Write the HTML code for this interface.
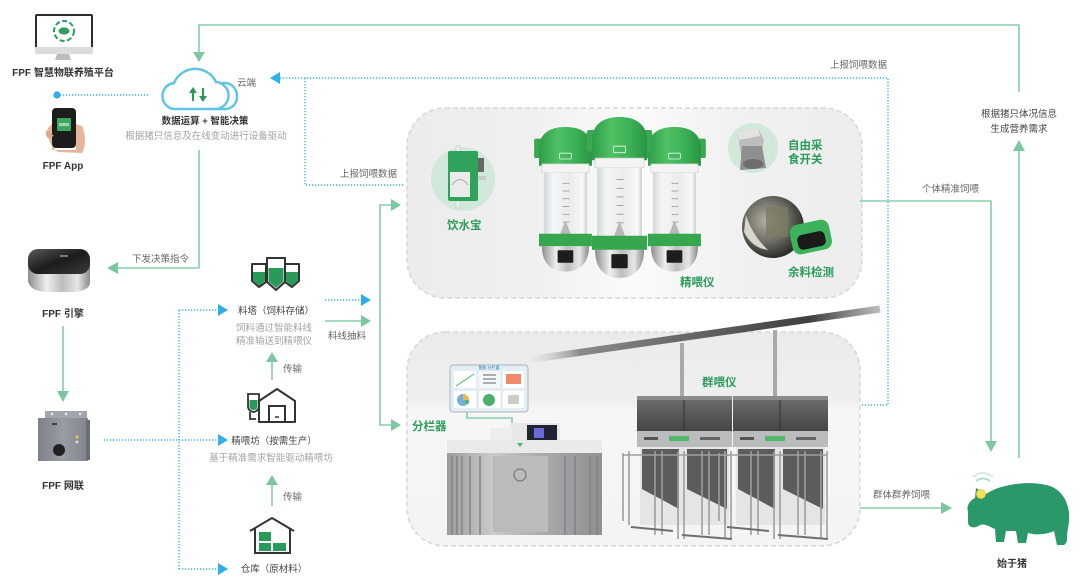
<!DOCTYPE html>
<html><head><meta charset="utf-8">
<style>
html,body{margin:0;padding:0;background:#fff;}
svg{display:block;}
text{font-family:"Liberation Sans","Noto Sans CJK SC",sans-serif;}
</style></head><body>
<svg width="1080" height="580" viewBox="0 0 1080 580" xmlns="http://www.w3.org/2000/svg">
<defs>
 <linearGradient id="pTop" x1="0" x2="1" y1="0" y2="0">
  <stop offset="0" stop-color="#ececec"/><stop offset="0.28" stop-color="#f0f0f0"/><stop offset="0.5" stop-color="#fbfbfb"/><stop offset="0.72" stop-color="#f1f1f1"/><stop offset="1" stop-color="#ededed"/>
 </linearGradient>
 <linearGradient id="pBot" x1="0" x2="0" y1="0" y2="1">
  <stop offset="0" stop-color="#ebebeb"/><stop offset="0.33" stop-color="#efefef"/><stop offset="0.36" stop-color="#f6f6f6"/><stop offset="1" stop-color="#f4f4f4"/>
 </linearGradient>
 <linearGradient id="gcap" x1="0" x2="1" y1="0" y2="0">
  <stop offset="0" stop-color="#2f9c48"/><stop offset="0.35" stop-color="#4fc063"/><stop offset="0.7" stop-color="#3bb055"/><stop offset="1" stop-color="#2a9342"/>
 </linearGradient>
 <linearGradient id="silver" x1="0" x2="1" y1="0" y2="0">
  <stop offset="0" stop-color="#8d8d8d"/><stop offset="0.3" stop-color="#efefef"/><stop offset="0.55" stop-color="#bdbdbd"/><stop offset="0.8" stop-color="#e6e6e6"/><stop offset="1" stop-color="#8a8a8a"/>
 </linearGradient>
 <linearGradient id="tube" x1="0" x2="1" y1="0" y2="0">
  <stop offset="0" stop-color="#d3d7d9"/><stop offset="0.2" stop-color="#f4f5f6"/><stop offset="0.6" stop-color="#eaeced"/><stop offset="0.9" stop-color="#f7f8f8"/><stop offset="1" stop-color="#cdd1d3"/>
 </linearGradient>
 <linearGradient id="pipe" x1="527" y1="0" x2="880" y2="0" gradientUnits="userSpaceOnUse">
  <stop offset="0" stop-color="#cfcfcf" stop-opacity="0"/><stop offset="0.15" stop-color="#8a8a8a"/><stop offset="0.8" stop-color="#3e3e3e"/><stop offset="1" stop-color="#bdbdbd"/>
 </linearGradient>
 <linearGradient id="mach" x1="0" x2="1" y1="0" y2="0">
  <stop offset="0" stop-color="#9a9c9e"/><stop offset="0.3" stop-color="#c9cbcc"/><stop offset="0.6" stop-color="#a9abad"/><stop offset="1" stop-color="#8e9092"/>
 </linearGradient>
 <linearGradient id="dark" x1="0" x2="0" y1="0" y2="1">
  <stop offset="0" stop-color="#6a6b6d"/><stop offset="1" stop-color="#444547"/>
 </linearGradient>
 <linearGradient id="engTop" x1="0" x2="1" y1="0" y2="1">
  <stop offset="0" stop-color="#5a5a5a"/><stop offset="0.5" stop-color="#1c1c1c"/><stop offset="1" stop-color="#3a3a3a"/>
 </linearGradient>
 <linearGradient id="box" x1="0" x2="1" y1="0" y2="0">
  <stop offset="0" stop-color="#7e8089"/><stop offset="0.5" stop-color="#9a9ca5"/><stop offset="1" stop-color="#82848d"/>
 </linearGradient>
 <radialGradient id="rest" cx="0.4" cy="0.4" r="0.6">
  <stop offset="0" stop-color="#b5b2a8"/><stop offset="0.6" stop-color="#6a6a62"/><stop offset="1" stop-color="#2e2e2c"/>
 </radialGradient>

 <g id="feeder">
  <rect x="-5" y="12" width="10" height="20" rx="2" fill="#3aa852"/>
  <rect x="49" y="12" width="10" height="20" rx="2" fill="#3aa852"/>
  <path d="M0,40 L0,22 C0,6 12,0 27,0 C42,0 54,6 54,22 L54,40 Z" fill="url(#gcap)"/>
  <rect x="21" y="27" width="12" height="6" rx="1" fill="none" stroke="#e9f6ec" stroke-width="0.8"/>
  <rect x="3" y="38" width="48" height="9" fill="#f3f3f3" stroke="#c9c9c9" stroke-width="0.6"/>
  <rect x="5" y="47" width="44" height="65" fill="url(#tube)"/>
  <g stroke="#8a8a8a" stroke-width="0.7">
   <line x1="24" y1="58" x2="31" y2="58"/><line x1="24" y1="66" x2="31" y2="66"/><line x1="24" y1="74" x2="31" y2="74"/>
   <line x1="24" y1="82" x2="31" y2="82"/><line x1="24" y1="90" x2="31" y2="90"/><line x1="24" y1="98" x2="31" y2="98"/>
  </g>
  <polygon points="27,96 21,112 33,112" fill="#b9b9b9"/>
  <path d="M0,110 L54,110 L54,123 L0,123 Z" fill="#36a74f"/>
  <path d="M3,123 L51,123 C51,141 41,149 27,149 C13,149 3,141 3,123 Z" fill="url(#silver)"/>
  <rect x="19" y="127" width="16" height="13" rx="1" fill="#1d1d1d"/>
 </g>

 <g id="gfeed">
  <rect x="0" y="0" width="95" height="32" fill="url(#dark)"/>
  <line x1="47" y1="0" x2="47" y2="32" stroke="#333" stroke-width="1"/>
  <rect x="0" y="-3" width="95" height="4" fill="#8a8b8d"/>
  <rect x="0" y="32" width="95" height="16" fill="#b9bbbd"/>
  <rect x="32" y="37" width="20" height="5" rx="1" fill="#4fb866"/>
  <rect x="7" y="38" width="14" height="3" fill="#555"/>
  <rect x="63" y="38" width="20" height="3" fill="#666"/>
  <rect x="3" y="48" width="89" height="78" fill="#e4e5e6"/>
  <polygon points="5,50 42,50 42,110 5,90" fill="#5b5c5e"/>
  <polygon points="50,50 90,50 90,110 50,90" fill="#5b5c5e"/>
  <g stroke="#9c9ea0" stroke-width="1.6">
   <line x1="-14" y1="54" x2="-14" y2="122"/><line x1="-8" y1="52" x2="-8" y2="126"/>
   <line x1="18" y1="52" x2="18" y2="136"/><line x1="25" y1="52" x2="25" y2="136"/>
   <line x1="41" y1="52" x2="41" y2="140"/><line x1="47" y1="52" x2="47" y2="140"/>
   <line x1="65" y1="52" x2="65" y2="136"/><line x1="72" y1="52" x2="72" y2="136"/>
   <line x1="88" y1="52" x2="88" y2="140"/><line x1="94" y1="52" x2="94" y2="140"/>
   <line x1="-14" y1="56" x2="94" y2="56"/>
  </g>
  <g stroke="#6d6f71" stroke-width="2">
   <line x1="-6" y1="128" x2="36" y2="132"/><line x1="45" y1="136" x2="95" y2="140"/>
  </g>
 </g>
</defs>

<!-- panels -->
<rect x="407" y="108" width="455" height="190" rx="38" fill="url(#pTop)" stroke="#dcdcdc" stroke-width="1.8" stroke-dasharray="5 3"/>
<rect x="407" y="332" width="453" height="214" rx="38" fill="url(#pBot)" stroke="#dcdcdc" stroke-width="1.8" stroke-dasharray="5 3"/>

<!-- ========== green connectors ========== -->
<g stroke="#86cdaa" stroke-width="1.6" fill="none">
 <path d="M199,53 V25 H1019 V92"/>
 <path d="M199,150 V268 H116"/>
 <path d="M63,326 V392"/>
 <path d="M272,380 V360"/>
 <path d="M272,506 V483"/>
 <path d="M325,321 H362"/>
 <path d="M392,205 H380 V425 H392"/>
 <path d="M860,201 H991 V442"/>
 <path d="M1019,458 V150"/>
 <path d="M860,508 H942"/>
 <path d="M467,402 V418 H512 V430"/>
</g>
<g fill="#7cc6a0">
 <polygon points="193,52 205,52 199,62"/>
 <polygon points="118,262 118,274 107,268"/>
 <polygon points="57,391 69,391 63,402"/>
 <polygon points="266,362 278,362 272,352"/>
 <polygon points="266,485 278,485 272,475"/>
 <polygon points="361,315 361,327 371,321"/>
 <polygon points="391,199 391,211 401,205"/>
 <polygon points="391,419 391,431 401,425"/>
 <polygon points="985,441 997,441 991,452"/>
 <polygon points="1013,151 1025,151 1019,140"/>
 <polygon points="941,502 941,514 952,508"/>
</g>

<!-- ========== blue dotted connectors ========== -->
<g stroke="#35b3ea" stroke-width="1.4" fill="none" stroke-dasharray="1.2 1.8">
 <path d="M60,95 H150"/>
 <path d="M280,78 H888 V405 H860"/>
 <path d="M305,78 V185 H405"/>
 <path d="M104,440 H218"/>
 <path d="M179,310 V569"/>
 <path d="M179,310 H218"/>
 <path d="M179,569 H218"/>
 <path d="M325,300 H362"/>
</g>
<circle cx="57" cy="95" r="3.6" fill="#2eaeea"/>
<g fill="#2eaeea">
 <polygon points="280,72 280,84 270,78"/>
 <polygon points="218,434 218,446 228,440"/>
 <polygon points="218,304 218,316 228,310"/>
 <polygon points="218,563 218,575 228,569"/>
 <polygon points="361,294 361,306 371,300"/>
</g>

<!-- ========== left column icons ========== -->
<!-- monitor -->
<rect x="35" y="14" width="58" height="40" rx="2" fill="#2d2d2d"/>
<rect x="37" y="16" width="54" height="31" fill="#fff"/>
<rect x="35" y="47" width="58" height="7" fill="#dcdcdc"/>
<polygon points="57,54 69,54 71,60 55,60" fill="#bdbdbd"/>
<circle cx="64" cy="31" r="10" fill="none" stroke="#2e9e5a" stroke-width="2" stroke-dasharray="5 2.5"/>
<ellipse cx="64" cy="31" rx="5.5" ry="3.6" fill="#2e9e5a"/>
<!-- phone -->
<path d="M48,128 C46,136 50,146 58,152 L82,153 C86,146 86,134 82,126 L76,124 L76,150 L52,150 L52,124 Z" fill="#e6b59c"/>
<rect x="52" y="108" width="24" height="40" rx="4" fill="#1c1c1c"/>
<rect x="57" y="118" width="14" height="13" rx="1" fill="#3aa95f"/>
<rect x="59" y="123" width="10" height="3" fill="#9ed7b0"/>
<path d="M47,130 Q44,134 48,138 L54,136 Z" fill="#dca78e"/>
<!-- cloud -->
<path d="M222,83 A13,13 0 0 1 237,97 A12,12 0 0 1 226,109 H214" fill="#fff" stroke="#5ec3e6" stroke-width="2.4"/>
<path d="M177,109 A13,13 0 0 1 174,83 A23,23 0 0 1 216,82 A13.5,13.5 0 0 1 214,109 Z" fill="#fff" stroke="#5ec3e6" stroke-width="2.4"/>
<g stroke="#2a9a5a" stroke-width="2.2" fill="#2a9a5a">
 <line x1="193" y1="92" x2="193" y2="101"/>
 <line x1="203" y1="88" x2="203" y2="97"/>
</g>
<polygon points="189,93 197,93 193,87" fill="#2a9a5a"/>
<polygon points="199,96 207,96 203,102" fill="#2a9a5a"/>

<!-- FPF 引擎 -->
<path d="M28,262 L28,281 Q30,291 46,292 L76,292 Q90,290 90,282 L90,262 Z" fill="url(#silver)"/>
<rect x="28" y="249" width="62" height="25" rx="10" fill="url(#engTop)"/>
<rect x="60" y="255" width="8" height="2" fill="#777"/>
<!-- FPF 网联 -->
<rect x="45" y="411" width="42" height="7" fill="#a3a5ac"/>
<circle cx="52" cy="414" r="1.2" fill="#eee"/><circle cx="66" cy="414" r="1.2" fill="#eee"/><circle cx="80" cy="414" r="1.2" fill="#eee"/>
<rect x="38" y="418" width="50" height="43" fill="url(#box)"/>
<rect x="86" y="420" width="4" height="40" fill="#6d6f77"/>
<circle cx="59" cy="450" r="6" fill="#222"/>
<circle cx="77" cy="437" r="1.6" fill="#e5c640"/><circle cx="77" cy="442" r="1.4" fill="#ddd"/>
<rect x="52" y="423" width="5" height="2" fill="#444"/>

<!-- 料塔 icon -->
<g stroke="#333" stroke-width="2" stroke-linejoin="round">
 <path d="M252,264 H266 V282 L259,287 L252,281 Z" fill="#fff"/>
 <path d="M285,264 H299 V281 L292,287 L285,282 Z" fill="#fff"/>
</g>
<path d="M253,272 H265 V281 L259,286 L253,281 Z" fill="#2a9a5a"/>
<path d="M286,272 H298 V281 L292,286 L286,281 Z" fill="#2a9a5a"/>
<path d="M267,258 H285 V282 L276,290 L267,282 Z" fill="#fff" stroke="#333" stroke-width="2" stroke-linejoin="round"/>
<path d="M268.5,268 H283.5 V281.5 L276,288 L268.5,281.5 Z" fill="#2a9a5a"/>

<!-- 精喂坊 icon -->
<path d="M248,394 H259 V406 Q259,411 253.5,412 Q248,411 248,406 Z" fill="#fff" stroke="#333" stroke-width="1.8"/>
<path d="M249.5,400 H257.5 V406 Q257.5,410 253.5,410 Q249.5,410 249.5,406 Z" fill="#2a9a5a"/>
<path d="M250,412 V419 H256" fill="none" stroke="#333" stroke-width="1.8"/>
<path d="M259,401 L277,389 L295,401 V422 H259 Z" fill="#fff" stroke="#333" stroke-width="2" stroke-linejoin="round"/>
<rect x="269" y="406" width="16" height="16" fill="#fff" stroke="#333" stroke-width="2"/>
<line x1="275" y1="417" x2="279" y2="417" stroke="#333" stroke-width="1.5"/>

<!-- 仓库 icon -->
<path d="M250,531 L272,518 L294,531" fill="none" stroke="#333" stroke-width="2" stroke-linejoin="round"/>
<path d="M255,528 V553 H290 V528" fill="none" stroke="#333" stroke-width="2"/>
<rect x="259" y="532" width="12" height="9" fill="#2a9a5a"/>
<rect x="259" y="543" width="12" height="8" fill="#2a9a5a"/>
<rect x="273" y="543" width="13" height="8" fill="#2a9a5a"/>

<!-- ========== top panel contents ========== -->
<!-- 饮水宝 -->
<circle cx="463" cy="179" r="32" fill="#d2e8db"/>
<rect x="456" y="146" width="4" height="6" fill="#eee" stroke="#bbb" stroke-width="0.5"/>
<rect x="456" y="201" width="4" height="7" fill="#eee" stroke="#bbb" stroke-width="0.5"/>
<rect x="448" y="151" width="30" height="50" rx="2" fill="#2fa35a"/>
<path d="M450,172 H470 V197 H450 Z" fill="#e9ecea"/>
<path d="M452,185 Q460,174 468,185" fill="none" stroke="#aaa" stroke-width="1"/>
<rect x="478" y="158" width="6" height="14" fill="#666"/>
<rect x="478" y="176" width="8" height="4" fill="#ccc"/>
<!-- feeders -->
<use href="#feeder" transform="translate(539,127) scale(0.98,0.97)"/>
<use href="#feeder" transform="translate(648,127) scale(0.98,0.97)"/>
<use href="#feeder" transform="translate(592,117) scale(1.02,1.08)"/>
<!-- 自由采食开关 -->
<circle cx="753" cy="148" r="25" fill="#d2e8db"/>
<polygon points="737,132 758,128 764,140 760,160 742,160" fill="#bdbdbd"/>
<polygon points="742,146 762,146 766,168 740,170" fill="#8f8f8f"/>
<ellipse cx="753" cy="164" rx="10" ry="5" fill="#6d6d6d"/>
<polygon points="737,132 758,128 760,136 739,140" fill="#e2e2e2"/>
<!-- 余料检测 -->
<circle cx="773" cy="227" r="31" fill="url(#rest)"/>
<path d="M746,215 Q752,235 768,250 Q752,248 744,232 Z" fill="#d9d6cf"/>
<rect x="766" y="207" width="22" height="30" fill="#7b7a62" opacity="0.8"/>
<g transform="rotate(-12 811 238)">
 <rect x="791" y="222" width="40" height="30" rx="8" fill="#3cb35a"/>
 <rect x="797" y="233" width="28" height="15" rx="5" fill="#1a1a1a"/>
</g>

<!-- ========== bottom panel contents ========== -->
<path d="M527,360 L880,309" stroke="url(#pipe)" stroke-width="7" fill="none"/>
<rect x="680" y="343" width="4" height="58" fill="#a9a9a9"/>
<rect x="773" y="330" width="4" height="71" fill="#a9a9a9"/>
<!-- popup screen -->
<rect x="450" y="365" width="78" height="47" rx="3" fill="#e2eef3" stroke="#a8b6bd" stroke-width="1"/>
<rect x="454" y="371" width="22" height="17" fill="#fff"/>
<line x1="456" y1="386" x2="474" y2="374" stroke="#4cb06a" stroke-width="1"/>
<rect x="479" y="371" width="21" height="17" fill="#f4f7f8"/>
<g stroke="#666" stroke-width="1"><line x1="483" y1="375" x2="496" y2="375"/><line x1="483" y1="379" x2="496" y2="379"/><line x1="483" y1="383" x2="496" y2="383"/></g>
<rect x="503" y="371" width="21" height="17" fill="#fff"/>
<rect x="506" y="374" width="15" height="10" fill="#f08a6a"/>
<rect x="454" y="391" width="22" height="17" fill="#fff"/>
<circle cx="463" cy="400" r="6" fill="#6fb0e0"/>
<path d="M463,400 L463,394 A6,6 0 0 1 469,400 Z" fill="#f2b94a"/>
<rect x="479" y="391" width="21" height="17" fill="#fff"/>
<circle cx="489" cy="400" r="6" fill="#4cb06a"/>
<rect x="503" y="391" width="21" height="17" fill="#fff"/>
<rect x="508" y="395" width="11" height="9" fill="#ccc"/>
<text x="489" y="369" font-size="4" fill="#2a7ab0" text-anchor="middle">智能 分栏器</text>
<circle cx="467" cy="402" r="2" fill="#4cb06a"/>
<!-- sorting machine -->
<rect x="510" y="423" width="50" height="24" rx="2" fill="#e8e8e8"/>
<rect x="527" y="425" width="30" height="16" fill="#1f2430"/>
<rect x="534" y="428" width="10" height="10" fill="#6a6ad8"/>
<rect x="490" y="428" width="22" height="14" fill="#eee"/>
<rect x="447" y="440" width="155" height="14" fill="#e9eaea"/>
<rect x="447" y="453" width="155" height="82" fill="url(#mach)"/>
<rect x="493" y="456" width="55" height="76" fill="#b9bbbd"/>
<circle cx="520" cy="475" r="6" fill="none" stroke="#777" stroke-width="1.2"/>
<g stroke="#7f8183" stroke-width="1.4">
 <line x1="452" y1="456" x2="452" y2="535"/><line x1="457" y1="456" x2="457" y2="535"/><line x1="462" y1="456" x2="462" y2="535"/>
 <line x1="470" y1="456" x2="470" y2="535"/><line x1="480" y1="456" x2="480" y2="535"/>
 <line x1="565" y1="456" x2="565" y2="535"/><line x1="575" y1="456" x2="575" y2="535"/>
 <line x1="590" y1="456" x2="590" y2="535"/><line x1="597" y1="456" x2="597" y2="535"/>
</g>
<polygon points="517,443 523,443 520,447" fill="#4cb06a"/>
<!-- group feeders -->
<use href="#gfeed" transform="translate(637,399)"/>
<use href="#gfeed" transform="translate(733,399)"/>

<!-- pig -->
<path d="M968,512 C966,506 970,500 975,498 L976,488 L986,494 C1000,484 1030,480 1050,486 C1066,492 1072,510 1068,528 C1066,536 1069,542 1064,545 L1057,545 L1054,531 C1045,535 1035,535 1028,533 L1026,543 L1018,543 L1016,531 L1006,531 L1004,542 L996,542 L995,529 C990,527 985,523 980,525 C975,529 968,528 968,522 Z" fill="#2a9868"/>
<circle cx="981" cy="494" r="4.5" fill="#f0e05a" stroke="#e0c840" stroke-width="0.8"/>
<path d="M976,481 Q983,476 990,481" fill="none" stroke="#a9dcc2" stroke-width="1.8"/>
<path d="M973,477 Q983,469 993,477" fill="none" stroke="#cfeadc" stroke-width="1.8"/>

<!-- ========== text ========== -->
<g font-size="10" font-weight="bold" fill="#333" text-anchor="middle">
 <text x="63" y="76">FPF 智慧物联养殖平台</text>
 <text x="63" y="169">FPF App</text>
 <text x="63" y="317">FPF 引擎</text>
 <text x="63" y="489">FPF 网联</text>
 <text x="1012" y="567">始于猪</text>
</g>
<g font-size="9.5" fill="#333" text-anchor="middle" font-weight="bold">
 <text x="205" y="124">数据运算 + 智能决策</text>
</g>
<g font-size="9.5" fill="#444" text-anchor="middle">
 <text x="276" y="314">料塔（饲料存储）</text>
 <text x="274" y="444">精喂坊（按需生产）</text>
 <text x="274" y="572">仓库（原材料）</text>
 <text x="1019" y="117">根据猪只体况信息</text>
 <text x="1019" y="132">生成营养需求</text>
</g>
<g font-size="9.5" fill="#a3a3a3" text-anchor="middle">
 <text x="206" y="139">根据猪只信息及在线变动进行设备驱动</text>
 <text x="274" y="331">饲料通过智能料线</text>
 <text x="274" y="344">精准输送到精喂仪</text>
 <text x="271" y="461">基于精准需求智能驱动精喂坊</text>
</g>
<g font-size="9.5" fill="#666">
 <text x="237" y="86">云端</text>
 <text x="132" y="262">下发决策指令</text>
 <text x="283" y="372">传输</text>
 <text x="283" y="500">传输</text>
 <text x="328" y="339">料线抽料</text>
 <text x="340" y="177">上报饲喂数据</text>
 <text x="830" y="68">上报饲喂数据</text>
 <text x="922" y="192">个体精准饲喂</text>
 <text x="873" y="498">群体群养饲喂</text>
</g>
<g font-size="11.5" font-weight="bold" fill="#2b9c5a">
 <text x="447" y="229">饮水宝</text>
 <text x="680" y="286">精喂仪</text>
 <text x="788" y="149">自由采</text>
 <text x="788" y="163">食开关</text>
 <text x="788" y="276">余料检测</text>
 <text x="412" y="430">分栏器</text>
 <text x="702" y="386">群喂仪</text>
</g>
</svg>
</body></html>
